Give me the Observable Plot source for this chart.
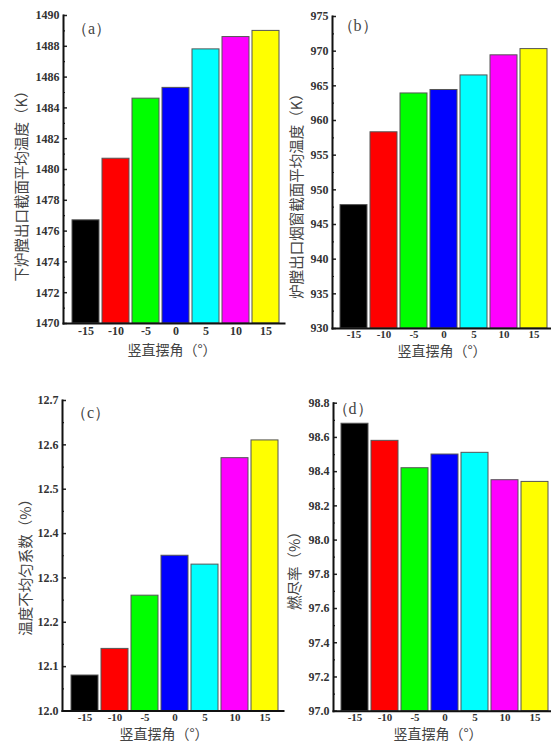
<!DOCTYPE html>
<html>
<head>
<meta charset="utf-8">
<script src="https://cdn.jsdelivr.net/npm/d3@7"></script>
<script src="https://cdn.jsdelivr.net/npm/@observablehq/plot@0.6"></script>
<style>
  html, body { margin: 0; padding: 0; background: #fff; }
  #chart { position: relative; width: 551px; height: 743px; overflow: hidden; background: #fff; }
  #chart svg { position: absolute; }
</style>
</head>
<body>
<div id="chart"></div>
<script>
// ---- data ----
const angles = ["-15", "-10", "-5", "0", "5", "10", "15"];
const barColors = ["#000000", "#ff0000", "#00ff00", "#0000ff", "#00ffff", "#ff00ff", "#ffff00"];

const lowerFurnaceTemp = [1476.7, 1480.7, 1484.6, 1485.3, 1487.8, 1488.6, 1489.0];
const outletWindowTemp = [947.8, 958.3, 963.9, 964.4, 966.5, 969.4, 970.3];
const nonUniformCoef = [12.08, 12.14, 12.26, 12.35, 12.33, 12.57, 12.61];
const burnoutRate = [98.68, 98.58, 98.42, 98.50, 98.51, 98.35, 98.34];

const ticksA = [1470, 1472, 1474, 1476, 1478, 1480, 1482, 1484, 1486, 1488, 1490];
const ticksB = [930, 935, 940, 945, 950, 955, 960, 965, 970, 975];
const ticksC = [12.0, 12.1, 12.2, 12.3, 12.4, 12.5, 12.6, 12.7];
const ticksD = [97.0, 97.2, 97.4, 97.6, 97.8, 98.0, 98.2, 98.4, 98.6, 98.8];

const xTitle = "竖直摆角（°）";
const yTitles = ["下炉膛出口截面平均温度（K）", "炉膛出口烟窗截面平均温度（K）", "温度不均匀系数（%）", "燃尽率（%）"];
const letters = ["（a）", "（b）", "（c）", "（d）"];

// ---- drawing ----
const CJK = "'Noto Sans CJK SC', 'Noto Sans', sans-serif";
const SERIF = "'Liberation Serif', 'DejaVu Serif', serif";

function midTicks(major) {
  const out = [];
  for (let i = 0; i < major.length - 1; i++) out.push((major[i] + major[i + 1]) / 2);
  return out;
}

function panel(cfg) {
  const data = angles.map((a, i) => ({angle: a, value: cfg.values[i], color: barColors[i]}));
  const dom = [cfg.ticks[0], cfg.ticks[cfg.ticks.length - 1]];
  const svg = Plot.plot({
    width: cfg.width,
    height: cfg.height,
    marginLeft: cfg.ml,
    marginRight: cfg.width - cfg.ml - cfg.W,
    marginTop: cfg.mt,
    marginBottom: cfg.mb,
    style: {background: "transparent", fontFamily: SERIF, fontSize: "12px", color: "#222", overflow: "visible"},
    x: {type: "band", domain: angles, paddingInner: 0.1, paddingOuter: 0.17, align: 0.66, label: null},
    y: {domain: dom, label: null},
    color: {type: "identity"},
    marks: [
      Plot.barY(data, {x: "angle", y1: dom[0], y2: "value", fill: "color", stroke: "#555", strokeWidth: 1}),
      Plot.axisY({ticks: cfg.ticks, tickSize: -4, tickPadding: 8, strokeWidth: 1.5, tickFormat: cfg.fmt,
                  fontSize: 12, fontWeight: "bold", fill: "#333", label: null}),
      Plot.axisY({ticks: midTicks(cfg.ticks), tickSize: -2, strokeWidth: 1.2, tickFormat: () => "", label: null}),
      Plot.axisX({tickSize: 0, tickPadding: cfg.xpad, fontSize: cfg.xfs, fontWeight: "bold", fill: "#333", label: null}),
      Plot.frame({anchor: "left", stroke: "#111", strokeWidth: 2}),
      Plot.frame({anchor: "bottom", stroke: "#111", strokeWidth: 2}),
      Plot.text([cfg.letter], {frameAnchor: "top-left", dx: cfg.ldx, dy: cfg.ldy, textAnchor: "middle", lineAnchor: "middle",
                               fontFamily: SERIF, fontSize: 16, fill: "#444"}),
      Plot.text([xTitle], {frameAnchor: "bottom", dx: cfg.xdx, dy: cfg.xdy, textAnchor: "middle", lineAnchor: "middle",
                           fontFamily: CJK, fontSize: 14, fill: "#444"}),
      Plot.text([cfg.ytitle], {frameAnchor: "left", dx: cfg.ydx, dy: cfg.ydy, rotate: -90, textAnchor: "middle", lineAnchor: "middle",
                               fontFamily: CJK, fontSize: 14.5, fill: "#444"})
    ]
  });
  svg.style.left = cfg.left + "px";
  svg.style.top = cfg.top + "px";
  document.getElementById("chart").appendChild(svg);
}

panel({values: lowerFurnaceTemp, ticks: ticksA, fmt: d3.format("d"), letter: letters[0], ytitle: yTitles[0],
       left: 0, top: 0, width: 290, height: 370, ml: 63, W: 221, mt: 15, mb: 47, xpad: 3, xfs: 12,
       ldx: 28, ldy: 13, xdx: -2, xdy: 27, ydx: -41, ydy: 13});
panel({values: outletWindowTemp, ticks: ticksB, fmt: d3.format("d"), letter: letters[1], ytitle: yTitles[1],
       left: 275, top: 0, width: 276, height: 370, ml: 57, W: 219, mt: 16, mb: 42, xpad: 2, xfs: 11,
       ldx: 25, ldy: 9, xdx: 0, xdy: 23.5, ydx: -35, ydy: 20});
panel({values: nonUniformCoef, ticks: ticksC, fmt: d3.format(".1f"), letter: letters[2], ytitle: yTitles[2],
       left: 0, top: 370, width: 290, height: 373, ml: 62, W: 221, mt: 30, mb: 32.5, xpad: 2, xfs: 11,
       ldx: 28, ldy: 12, xdx: -9, xdy: 23.5, ydx: -36, ydy: 8});
panel({values: burnoutRate, ticks: ticksD, fmt: d3.format(".1f"), letter: letters[3], ytitle: yTitles[3],
       left: 275, top: 370, width: 276, height: 373, ml: 58, W: 219, mt: 32.7, mb: 32.3, xpad: 2, xfs: 11,
       ldx: 19, ldy: 6, xdx: -5, xdy: 23.5, ydx: -38, ydy: 10});
</script>
</body>
</html>
